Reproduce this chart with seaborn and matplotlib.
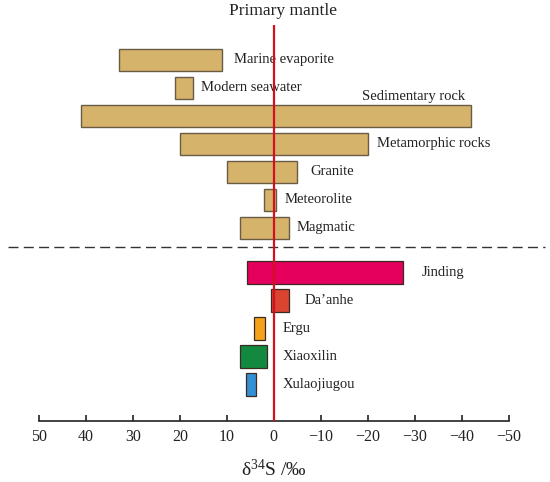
import matplotlib
matplotlib.use("Agg")
import matplotlib.pyplot as plt
import seaborn as sns
import numpy as np

# ---- data ----
source_names = ["Marine evaporite", "Modern seawater", "Sedimentary rock",
                "Metamorphic rocks", "Granite", "Meteorolite", "Magmatic"]
source_high = [33, 21, 41, 20, 10, 2, 7.2]
source_low = [11, 17.2, -42, -20, -5, -0.5, -3.2]

deposit_names = ["Jinding", "Da\u2019anhe", "Ergu", "Xiaoxilin", "Xulaojiugou"]
deposit_high = [5.7, 0.7, 4.2, 7.2, 5.9]
deposit_low = [-27.4, -3.3, 1.8, 1.4, 3.7]
deposit_colors = ["#E5005E", "#DA4431", "#F5A21A", "#13893F", "#3290D4"]

xticks = [50, 40, 30, 20, 10, 0, -10, -20, -30, -40, -50]

sns.set_theme(style="white")
plt.rcParams["font.family"] = ["Liberation Serif", "DejaVu Serif"]
plt.rcParams["mathtext.fontset"] = "custom"
plt.rcParams["mathtext.rm"] = "Liberation Serif"
plt.rcParams["mathtext.it"] = "Liberation Serif:italic"

fig = plt.figure(figsize=(5.5, 4.82), dpi=100)
ax = fig.add_axes([39 / 550, 61.5 / 482, (508.7 - 39) / 550, (420.5 - 25) / 482])

tan = "#D6B36B"
tan_edge = "#6A5C44"
src_y = np.arange(len(source_names), dtype=float)
dep_y = np.arange(len(deposit_names), dtype=float) + 7.6

ax.barh(src_y, np.array(source_high) - np.array(source_low), left=source_low,
        height=0.8, color=tan, edgecolor=tan_edge, linewidth=1.0, zorder=2)
ax.barh(dep_y, np.array(deposit_high) - np.array(deposit_low), left=deposit_low,
        height=0.8, color=deposit_colors, edgecolor="#3a2a20", linewidth=0.9, zorder=2)

# labels
src_label_x = [8.5, 15.6, None, -22, -7.8, -2.3, -4.8]
for i, (name, lx) in enumerate(zip(source_names, src_label_x)):
    if lx is None:
        ax.text(-40.7, src_y[i] - 0.7, name, ha="right", va="center", fontsize=10.5, color="#222222")
    else:
        ax.text(lx, src_y[i], name, ha="left", va="center", fontsize=10.5, color="#222222")
dep_label_x = [-31.4, -6.5, -1.8, -1.8, -1.8]
for i, (name, lx) in enumerate(zip(deposit_names, dep_label_x)):
    ax.text(lx, dep_y[i], name, ha="left", va="center", fontsize=10.5, color="#222222")

# red zero line
ax.axvline(0, color="#D3101E", linewidth=1.6, zorder=3)

# dashed separator
ax.plot([56.6, -57.7], [6.69, 6.69], color="#333333", linewidth=1.0,
        dashes=(7.2, 3.8), clip_on=False, zorder=1)

ax.set_xlim(50, -50)
ax.set_ylim(12.886, -1.24)
ax.set_xticks(xticks)
ax.set_xticklabels([f"{t}".replace("-", "\u2212") for t in xticks], fontsize=11.5, color="#222222")
ax.set_yticks([])
for s in ["top", "left", "right"]:
    ax.spines[s].set_visible(False)
ax.spines["bottom"].set_color("#222222")
ax.spines["bottom"].set_linewidth(1.2)
ax.tick_params(axis="x", bottom=True, direction="in", length=4.5, width=1.2,
               color="#222222", pad=6)

ax.set_xlabel("δ$^{34}$S /‰", fontsize=14, labelpad=10, color="#222222")
fig.text(283 / 550, 1 - 11 / 482, "Primary mantle", ha="center", va="center",
         fontsize=12.5, color="#222222")

fig.savefig("out.png", dpi=100)
